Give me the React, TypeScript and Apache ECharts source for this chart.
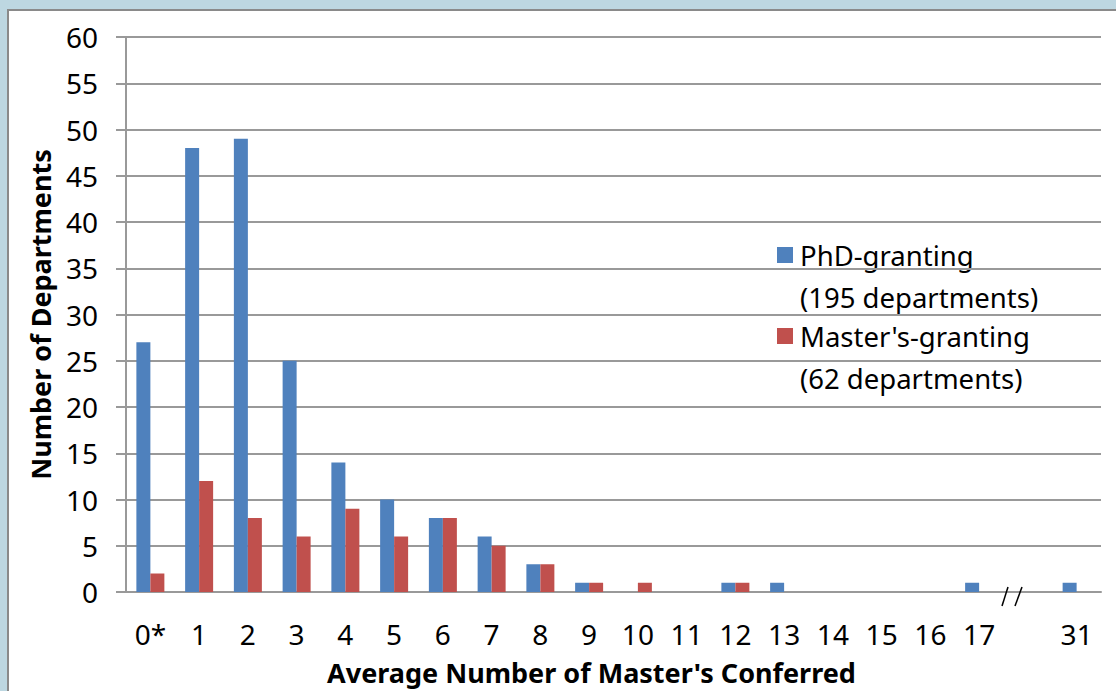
import React, { useEffect, useRef } from "react";
import * as echarts from "echarts";

const categories = ["0*", "1", "2", "3", "4", "5", "6", "7", "8", "9", "10", "11", "12", "13", "14", "15", "16", "17", "", "31"];
const phdValues: (number | null)[] = [27, 48, 49, 25, 14, 10, 8, 6, 3, 1, 0, 0, 1, 1, 0, 0, 0, 1, null, 1];
const mastersValues: (number | null)[] = [2, 12, 8, 6, 9, 6, 8, 5, 3, 1, 1, 0, 1, 0, 0, 0, 0, 0, null, 0];
const seriesNames = ["PhD-granting (195 departments)", "Master's-granting (62 departments)"];
const legendLines = [["PhD-granting", "(195 departments)"], ["Master's-granting", "(62 departments)"]];

const BLUE = "#4f81bd";
const RED = "#c0504d";
const FONT = "Noto Sans";

export default function App() {
  const ref = useRef<HTMLDivElement>(null);
  useEffect(() => {
    if (!ref.current) return;
    const chart = echarts.init(ref.current, null, { renderer: "svg" });
    const lx = 765, ly = 226;
    chart.setOption({
      animation: false,
      backgroundColor: "#bdd7e1",
      grid: { left: 126, right: 15, top: 37, bottom: 99, outerBoundsMode: "none", containLabel: false },
      xAxis: {
        type: "category",
        data: categories,
        name: "Average Number of Master's Conferred",
        nameLocation: "middle",
        nameGap: 65,
        nameTextStyle: { fontFamily: FONT, fontSize: 27, fontWeight: "bold", color: "#000", padding: [0, 44, 0, 0], lineHeight: 30 },
        axisLine: { lineStyle: { color: "#999", width: 2 } },
        axisTick: { show: false },
        axisLabel: { fontFamily: FONT, fontSize: 28, color: "#000", margin: 28, interval: 0 },
      },
      yAxis: {
        type: "value",
        min: 0,
        max: 60,
        interval: 5,
        name: "Number of Departments",
        nameLocation: "middle",
        nameGap: 72,
        nameTextStyle: { fontFamily: FONT, fontSize: 27, fontWeight: "bold", color: "#000" },
        axisLine: { show: true, lineStyle: { color: "#999", width: 2 } },
        axisTick: { show: true, length: 10, lineStyle: { color: "#999", width: 2 } },
        splitLine: { lineStyle: { color: "#999", width: 2 } },
        axisLabel: { fontFamily: FONT, fontSize: 28, color: "#000", margin: 28 },
      },
      series: [
        { name: seriesNames[0], type: "bar", data: phdValues, barWidth: 14, barGap: "0%", itemStyle: { color: BLUE } },
        { name: seriesNames[1], type: "bar", data: mastersValues, barWidth: 14, barGap: "0%", itemStyle: { color: RED } },
      ],
      graphic: [
        {
          type: "rect",
          z: -10,
          shape: { x: 8, y: 10, width: 1200, height: 800 },
          style: { fill: "#fff", stroke: "#8a8a8a", lineWidth: 2 },
        },
        {
          type: "group",
          z: 100,
          children: [
            { type: "rect", shape: { x: lx, y: ly, width: 292, height: 176 }, style: { fill: "#fff" } },
            { type: "rect", shape: { x: lx + 12, y: ly + 21, width: 16, height: 16 }, style: { fill: BLUE } },
            { type: "rect", shape: { x: lx + 12, y: ly + 102, width: 16, height: 16 }, style: { fill: RED } },
            ...[0, 1, 2, 3].map((i) => ({
              type: "text",
              x: lx + 35,
              y: ly + 29 + [0, 42, 81, 123][i],
              style: {
                text: legendLines[Math.floor(i / 2)][i % 2],
                font: `27.5px "${FONT}"`,
                fill: "#000",
                verticalAlign: "middle",
              },
            })),
          ],
        },
        { type: "line", z: 100, shape: { x1: 1002, y1: 606, x2: 1008, y2: 587 }, style: { stroke: "#000", lineWidth: 1.5 } },
        { type: "line", z: 100, shape: { x1: 1015, y1: 606, x2: 1022, y2: 587 }, style: { stroke: "#000", lineWidth: 1.5 } },
      ],
    });
    return () => chart.dispose();
  }, []);
  return <div ref={ref} style={{ position: "absolute", left: 0, top: 0, width: 1116, height: 691 }} />;
}
